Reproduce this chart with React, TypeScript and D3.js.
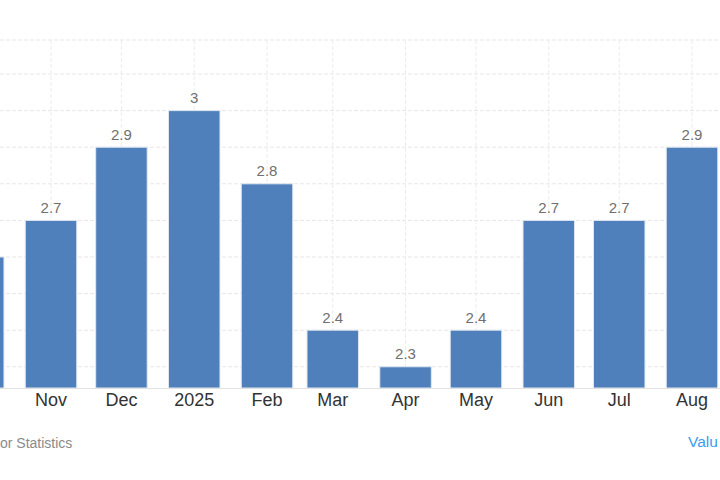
import React from 'react';
import * as d3 from 'd3';

const months = [
  '2024-10', '2024-11', '2024-12', '2025-01', '2025-02', '2025-03',
  '2025-04', '2025-05', '2025-06', '2025-07', '2025-08',
];
const values = [2.6, 2.7, 2.9, 3.0, 2.8, 2.4, 2.3, 2.4, 2.7, 2.7, 2.9];
const tickLabels = ['Oct', 'Nov', 'Dec', '2025', 'Feb', 'Mar', 'Apr', 'May', 'Jun', 'Jul', 'Aug'];
const gridValues = [2.3, 2.4, 2.5, 2.6, 2.7, 2.8, 2.9, 3.0, 3.1];
const sourceText = 'or Statistics';
const linkText = 'Valu';

const WIDTH = 720;
const HEIGHT = 480;
const FONT = '"Liberation Sans", Arial, sans-serif';
const parseMonth = d3.timeParse('%Y-%m');

export default function App() {
  const dates = months.map(m => parseMonth(m) as Date);

  // time axis: month starts, so spacing follows month lengths
  const xScale = d3.scaleTime()
    .domain([parseMonth('2024-11') as Date, parseMonth('2025-08') as Date])
    .range([51, 692]);

  const yScale = d3.scaleLinear()
    .domain([2.242, 3.193])
    .range([388, 40]);

  const barWidth = 51.5;
  const plotTop = yScale.range()[1];
  const baseline = yScale.range()[0];

  // labels only where the tick sits inside the visible area
  const labelled = dates
    .map((d, i) => ({ d, i }))
    .filter(({ d }) => xScale(d) > 0 && xScale(d) < WIDTH);

  return (
    <svg
      width={WIDTH}
      height={HEIGHT}
      style={{ position: 'absolute', left: 0, top: 0, background: '#fff' }}
      fontFamily={FONT}
    >
      {/* horizontal grid */}
      <line x1={0} x2={WIDTH} y1={plotTop} y2={plotTop}
        stroke="#ebe5e8" strokeDasharray="4,2" />
      {gridValues.map(v => (
        <line key={v} x1={0} x2={WIDTH} y1={yScale(v)} y2={yScale(v)}
          stroke="#ebe5e8" strokeDasharray="4,2" />
      ))}

      {/* vertical grid at ticks */}
      {dates.map((d, i) => (
        <line key={i} x1={xScale(d)} x2={xScale(d)} y1={plotTop} y2={baseline}
          stroke="#ececec" strokeDasharray="4,2" />
      ))}

      {/* bars */}
      {dates.map((d, i) => (
        <rect
          key={i}
          x={xScale(d) - barWidth / 2}
          y={yScale(values[i])}
          width={barWidth}
          height={baseline - yScale(values[i])}
          fill="#4f80bb"
          stroke="#dfe7f1"
          strokeWidth={1}
        />
      ))}

      {/* value labels */}
      {labelled.map(({ d, i }) => (
        <text
          key={i}
          x={xScale(d)}
          y={yScale(values[i]) - 7.5}
          textAnchor="middle"
          fontSize={15}
          fill="#707070"
        >
          {d3.format('~g')(values[i])}
        </text>
      ))}

      {/* baseline */}
      <line x1={0} x2={WIDTH} y1={baseline + 0.5} y2={baseline + 0.5} stroke="#e2e2e2" />

      {/* x tick labels */}
      {labelled.map(({ d, i }) => (
        <text
          key={i}
          x={xScale(d)}
          y={405.5}
          textAnchor="middle"
          fontSize={18}
          fill="#333"
        >
          {tickLabels[i]}
        </text>
      ))}

      {/* footer */}
      <text x={0} y={448} fontSize={14} fill="#8a8a8a">
        {sourceText}
      </text>
      <text x={688} y={447} fontSize={15.5} fill="#3a9bf0">
        {linkText}
      </text>
    </svg>
  );
}
